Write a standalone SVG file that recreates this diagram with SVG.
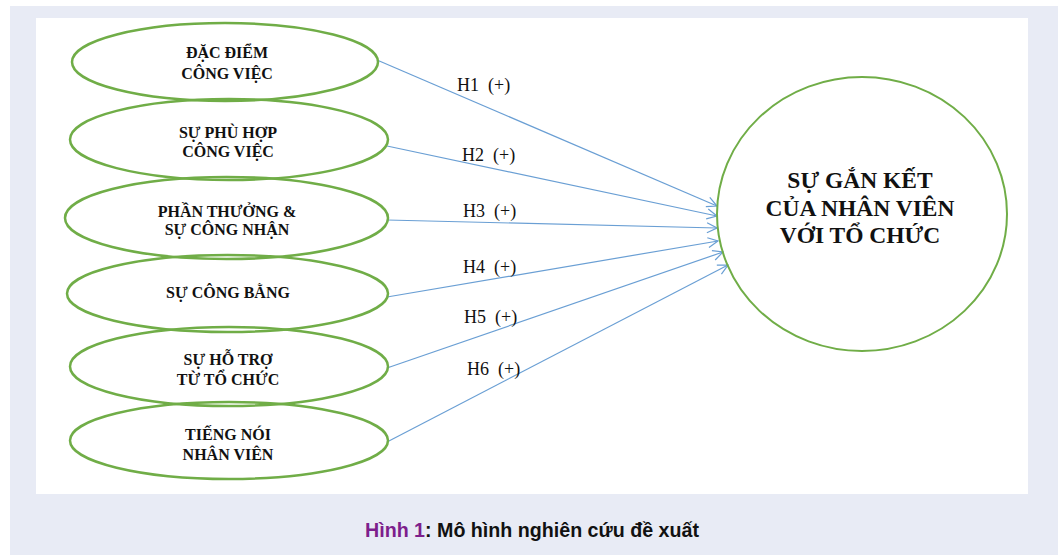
<svg xmlns="http://www.w3.org/2000/svg" width="1058" height="555" viewBox="0 0 1058 555">
<defs>
<style>
.node{fill:none;stroke:#70ad47;stroke-width:2.5}
.nt{font-family:"Liberation Serif","Times New Roman",serif;font-weight:bold;font-size:16px;fill:#111;text-anchor:middle}
.ct{font-family:"Liberation Serif","Times New Roman",serif;font-weight:bold;font-size:23.5px;fill:#111;text-anchor:middle}
.lbl{font-family:"Liberation Serif","Times New Roman",serif;font-size:18px;fill:#111;white-space:pre}
.conn{stroke:#6a9fd4;stroke-width:1.2;fill:none;marker-end:url(#arr)}
.cap{font-family:"Liberation Sans Narrow","Liberation Sans",Arial,sans-serif;font-weight:bold;font-size:21px}
</style>
<marker id="arr" viewBox="0 0 12 12" refX="11" refY="6" markerWidth="12" markerHeight="12" markerUnits="userSpaceOnUse" orient="auto">
<path d="M1,1 L11,6 L1,11" fill="none" stroke="#6a9fd4" stroke-width="1.2"/>
</marker>
</defs>
<rect x="10" y="6" width="1048" height="549" fill="#e8ebf5"/>
<rect x="36" y="18" width="992" height="476" fill="#ffffff"/>

<g id="connectors">
<line class="conn" x1="377" y1="60" x2="717" y2="206"/>
<line class="conn" x1="387" y1="146" x2="717" y2="216"/>
<line class="conn" x1="387" y1="220" x2="717" y2="228"/>
<line class="conn" x1="387" y1="297" x2="718" y2="241"/>
<line class="conn" x1="387" y1="368" x2="723" y2="252"/>
<line class="conn" x1="387" y1="442" x2="728" y2="265"/>
<text class="lbl" x="457" y="91">H1  (+)</text>
<text class="lbl" x="462" y="161">H2  (+)</text>
<text class="lbl" x="463" y="217">H3  (+)</text>
<text class="lbl" x="463" y="273">H4  (+)</text>
<text class="lbl" x="464" y="323">H5  (+)</text>
<text class="lbl" x="467" y="375">H6  (+)</text>
</g>

<g id="n1">
<ellipse class="node" cx="225" cy="62" rx="153" ry="39"/>
<text class="nt" x="227" y="58">ĐẶC ĐIỂM</text>
<text class="nt" x="227" y="79">CÔNG VIỆC</text>
</g>
<g id="n2">
<ellipse class="node" cx="229" cy="139.5" rx="159" ry="40.5"/>
<text class="nt" x="228" y="138">SỰ PHÙ HỢP</text>
<text class="nt" x="228" y="157">CÔNG VIỆC</text>
</g>
<g id="n3">
<ellipse class="node" cx="226.5" cy="218" rx="161.5" ry="41"/>
<text class="nt" x="227" y="217">PHẦN THƯỞNG &amp;</text>
<text class="nt" x="227" y="235">SỰ CÔNG NHẬN</text>
</g>
<g id="n4">
<ellipse class="node" cx="227.5" cy="293.5" rx="160.5" ry="38.5"/>
<text class="nt" x="228" y="298">SỰ CÔNG BẰNG</text>
</g>
<g id="n5">
<ellipse class="node" cx="229" cy="366.5" rx="159" ry="39.5"/>
<text class="nt" x="228" y="365">SỰ HỖ TRỢ</text>
<text class="nt" x="228" y="385">TỪ TỔ CHỨC</text>
</g>
<g id="n6">
<ellipse class="node" cx="229" cy="440.5" rx="159" ry="38.5"/>
<text class="nt" x="228" y="440">TIẾNG NÓI</text>
<text class="nt" x="228" y="460">NHÂN VIÊN</text>
</g>
<g id="target">
<ellipse cx="862" cy="214" rx="145" ry="137" fill="none" stroke="#70ad47" stroke-width="2"/>
<text class="ct" x="860" y="188">SỰ GẮN KẾT</text>
<text class="ct" x="860" y="216">CỦA NHÂN VIÊN</text>
<text class="ct" x="860" y="243">VỚI TỔ CHỨC</text>
</g>

<text class="cap" x="365" y="537" textLength="334" lengthAdjust="spacingAndGlyphs"><tspan fill="#7d1f8c">Hình 1</tspan><tspan fill="#111">: Mô hình nghiên cứu đề xuất</tspan></text>
</svg>
